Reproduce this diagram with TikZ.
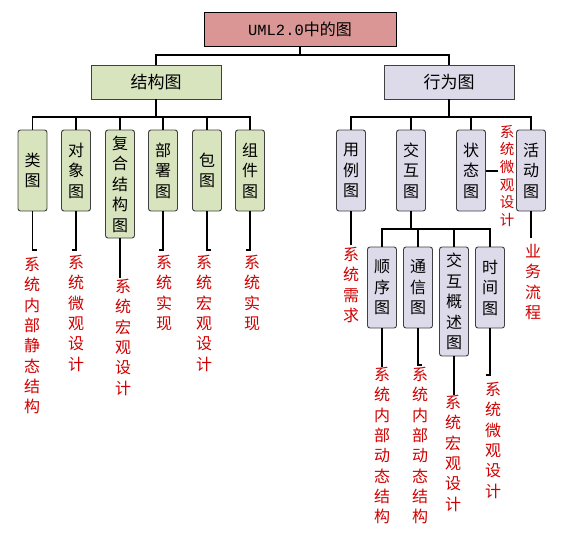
\documentclass[tikz,border=0pt]{standalone}
\usepackage{fontspec}
\newfontfamily\cjk{Noto Sans CJK SC}
\newfontfamily\monof{Liberation Mono}
\usetikzlibrary{calc}
\definecolor{rootfill}{HTML}{D99694}
\definecolor{grn}{HTML}{D7E4BD}
\definecolor{lav}{HTML}{DDDBEA}
\definecolor{bord}{HTML}{404040}
\definecolor{rd}{RGB}{208,0,0}
\tikzset{
  conn/.style={line width=1.2pt, black},
  headbox/.style={draw=bord, line width=0.9pt, minimum width=130pt, minimum height=34pt, inner sep=0pt,
     font=\cjk\fontsize{17}{20}\selectfont},
  leaf/.style={draw=bord, line width=0.9pt, rounded corners=2.5pt, minimum width=29pt, inner sep=0pt,
     align=center, font=\cjk\fontsize{16}{20.5}\selectfont},
  gleaf/.style={leaf, fill=grn},
  vleaf/.style={leaf, fill=lav},
  note/.style={text=rd, anchor=north, inner sep=0pt, align=center, font=\cjk\fontsize{16}{20.3}\selectfont},
  smallnote/.style={note, font=\cjk\fontsize{14.5}{17.6}\selectfont}
}
\begin{document}
\begin{tikzpicture}[x=1pt,y=-1pt]
\useasboundingbox (0,0) rectangle (571,539);
% root and heads
\node[draw=black, line width=0.9pt, fill=rootfill, minimum width=192pt, minimum height=34pt, inner sep=0pt]
  (root) at (300,29) {{\monof\fontsize{15.5}{18}\selectfont UML2.0}{\cjk\fontsize{16}{18}\selectfont 中的图}};
\node[headbox, fill=grn] (struct) at (156,82) {结构图};
\node[headbox, fill=lav] (behav) at (449,82) {行为图};
\coordinate (bar0) at (300,55);
\draw[conn] (root.south) -- (bar0) -| (struct.north);
\draw[conn] (bar0) -| (behav.north);
% structure children
\node[gleaf, minimum height=81pt]  (c1) at (32.5,170.5) {类\\图};
\node[gleaf, minimum height=81pt]  (c2) at (76,170.5) {对\\象\\图};
\node[gleaf, minimum height=108pt] (c3) at (120,184) {复\\合\\结\\构\\图};
\node[gleaf, minimum height=81pt]  (c4) at (163,170.5) {部\\署\\图};
\node[gleaf, minimum height=81pt]  (c5) at (207,170.5) {包\\图};
\node[gleaf, minimum height=81pt]  (c6) at (250,170.5) {组\\件\\图};
\coordinate (sbar) at (156,117);
\draw[conn] (struct.south) -- (sbar);
\foreach \n in {c1,c2,c3,c4,c5,c6} \draw[conn] (sbar) -| (\n.north);
% behaviour children
\node[vleaf, minimum height=81pt] (r1) at (351,170.5) {用\\例\\图};
\node[vleaf, minimum height=81pt] (r2) at (411,170.5) {交\\互\\图};
\node[vleaf, minimum height=81pt] (r3) at (471,170.5) {状\\态\\图};
\node[vleaf, minimum height=81pt] (r4) at (531,170.5) {活\\动\\图};
\coordinate (bbar) at (449,117);
\draw[conn] (behav.south) -- (bbar);
\foreach \n in {r1,r2,r3,r4} \draw[conn] (bbar) -| (\n.north);
% interaction children
\node[vleaf, minimum height=81pt]  (s1) at (382,287.5) {顺\\序\\图};
\node[vleaf, minimum height=81pt]  (s2) at (418,287.5) {通\\信\\图};
\node[vleaf, minimum height=109pt] (s3) at (454,301.5) {交\\互\\概\\述\\图};
\node[vleaf, minimum height=81pt]  (s4) at (490,287.5) {时\\间\\图};
\coordinate (ibar) at (411,229);
\draw[conn] (r2.south) -- (ibar);
\foreach \n in {s1,s2,s3,s4} \draw[conn] (ibar) -| (\n.north);
% notes
\node[note] (n1) at (32,257) {系\\统\\内\\部\\静\\态\\结\\构};
\node[note] (n2) at (76,255) {系\\统\\微\\观\\设\\计};
\node[note] (n3) at (123,279) {系\\统\\宏\\观\\设\\计};
\node[note] (n4) at (164,255) {系\\统\\实\\现};
\node[note] (n5) at (204,255) {系\\统\\宏\\观\\设\\计};
\node[note] (n6) at (252,255) {系\\统\\实\\现};
\node[note] (m1) at (351,247) {系\\统\\需\\求};
\node[note] (m4) at (533,244) {业\\务\\流\\程};
\node[smallnote] (m3) at (507,125) {系\\统\\微\\观\\设\\计};
\node[note] (p1) at (382,367) {系\\统\\内\\部\\动\\态\\结\\构};
\node[note] (p2) at (420,367) {系\\统\\内\\部\\动\\态\\结\\构};
\node[note] (p3) at (453,395) {系\\统\\宏\\观\\设\\计};
\node[note] (p4) at (493,382) {系\\统\\微\\观\\设\\计};
% note connectors
\coordinate (e1) at (32.5,250); \draw[conn] (c1.south) -- (e1) -- ++(4,0);
\coordinate (e2) at (76,250);   \draw[conn] (c2.south) -- (e2) -- ++(-4,0);
\coordinate (e3) at (120,278);  \draw[conn] (c3.south) -- (e3);
\coordinate (e4) at (163,250);  \draw[conn] (c4.south) -- (e4) -- ++(-4,0);
\coordinate (e5) at (207,250);  \draw[conn] (c5.south) -- (e5) -- ++(4,0);
\coordinate (e6) at (250,250);  \draw[conn] (c6.south) -- (e6) -- ++(-4,0);
\coordinate (f1) at (351,245);  \draw[conn] (r1.south) -- (f1);
\coordinate (f4) at (531,238);  \draw[conn] (r4.south) -- (f4);
\coordinate (f3) at (498,171);  \draw[conn] (r3.east |- f3) -- (f3);
\coordinate (g1) at (382,367);  \draw[conn] (s1.south) -- (g1);
\coordinate (g2) at (418,365);  \draw[conn] (s2.south) -- (g2) -- ++(4,0);
\coordinate (g3) at (454,395);  \draw[conn] (s3.south) -- (g3);
\coordinate (g4) at (490,375);  \draw[conn] (s4.south) -- (g4) -- ++(-4,0);
\end{tikzpicture}
\end{document}
